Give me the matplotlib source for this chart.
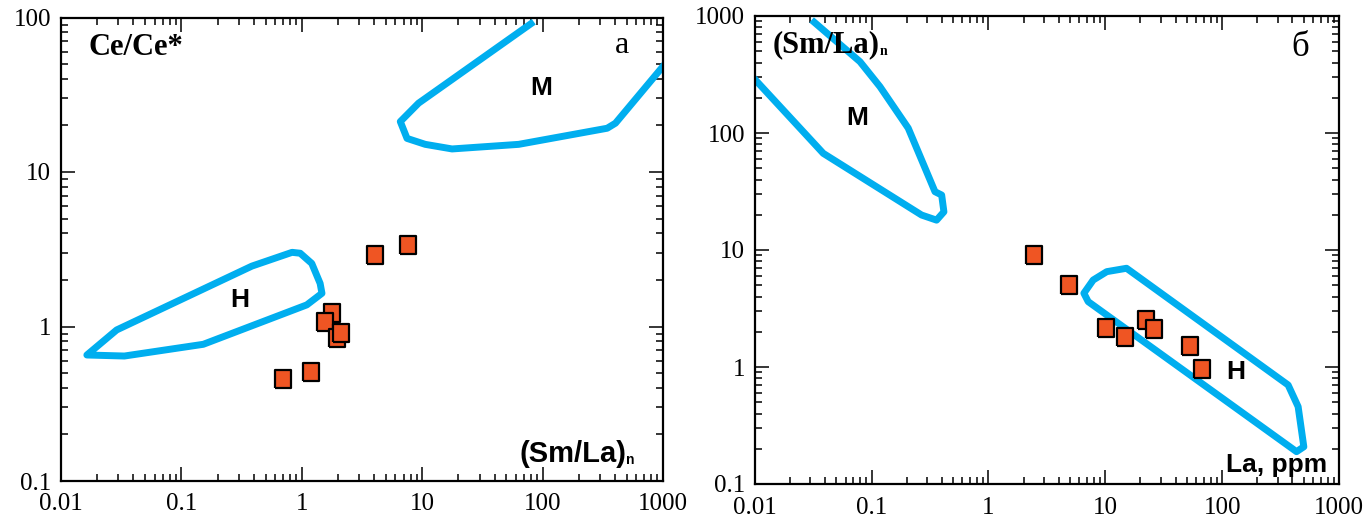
import matplotlib
matplotlib.use("Agg")
import matplotlib.pyplot as plt
from matplotlib.ticker import FixedLocator, LogLocator, NullFormatter

# ---------------- data ----------------
# panel a: (Sm/La)n vs Ce/Ce*
a_sm_la = [0.70, 1.20, 4.07, 7.66, 1.79, 1.57, 1.97, 2.13]
a_ce = [0.46, 0.51, 2.90, 3.39, 1.22, 1.07, 0.84, 0.91]

# field H, panel a (closed)
a_H_x = [0.0164, 0.0336, 0.152, 1.10, 1.47, 1.42, 1.21, 0.97, 0.83, 0.385, 0.029]
a_H_y = [0.654, 0.644, 0.767, 1.38, 1.64, 1.90, 2.56, 2.98, 3.02, 2.46, 0.95]
# field M, panel a (open, runs out of the frame)
a_M_x = [84.4, 9.33, 6.58, 7.48, 10.6, 17.7, 63.3, 344, 403, 1150]
a_M_y = [93.9, 27.9, 21.2, 16.5, 15.1, 14.1, 15.1, 19.2, 20.7, 55]

# panel б: La ppm vs (Sm/La)n
b_la = [2.47, 4.88, 10.1, 14.7, 22.4, 26.2, 53.2, 67.4]
b_sm_la = [9.1, 5.05, 2.17, 1.82, 2.51, 2.10, 1.50, 0.97]

# field M, panel б (open)
b_M_x = [0.0307, 0.0796, 0.118, 0.206, 0.349, 0.398, 0.416, 0.36, 0.268, 0.0386, 0.0095]
b_M_y = [925, 407, 249, 110, 31.5, 29.5, 21.2, 18.0, 19.9, 67.0, 305]
# field H, panel б (closed)
b_H_x = [15.2, 10.3, 7.88, 6.56, 7.14, 433, 500, 447, 367]
b_H_y = [6.98, 6.53, 5.54, 4.27, 3.62, 0.189, 0.208, 0.458, 0.702]

x_ticks = [0.01, 0.1, 1, 10, 100, 1000]
x_labels = ["0.01", "0.1", "1", "10", "100", "1000"]
a_y_ticks = [0.1, 1, 10, 100]
a_y_labels = ["0.1", "1", "10", "100"]
b_y_ticks = [0.1, 1, 10, 100, 1000]
b_y_labels = ["0.1", "1", "10", "100", "1000"]

# ---------------- style ----------------
field_color = "#00AEEF"
point_color = "#EF5523"
serif = "Liberation Serif"
sans = "Liberation Sans"
rect = [(-0.44, -0.5), (0.44, -0.5), (0.44, 0.5), (-0.44, 0.5), (-0.44, -0.5)]

fig = plt.figure(figsize=(13.68, 5.2), dpi=100)
W, H = 1368, 520


def make_axes(x0, x1, y0, y1):
    return fig.add_axes([x0 / W, 1 - y1 / H, (x1 - x0) / W, (y1 - y0) / H])


def style_axes(ax, yticks, ylabels, ylim):
    ax.set_xscale("log")
    ax.set_yscale("log")
    ax.set_xlim(0.01, 1000)
    ax.set_ylim(*ylim)
    ax.xaxis.set_major_locator(FixedLocator(x_ticks))
    ax.yaxis.set_major_locator(FixedLocator(yticks))
    ax.set_xticklabels(x_labels, family=serif, fontsize=18)
    ax.set_yticklabels(ylabels, family=serif, fontsize=18)
    ax.xaxis.set_minor_locator(LogLocator(base=10, subs=range(2, 10), numticks=20))
    ax.yaxis.set_minor_locator(LogLocator(base=10, subs=range(2, 10), numticks=20))
    ax.xaxis.set_minor_formatter(NullFormatter())
    ax.yaxis.set_minor_formatter(NullFormatter())
    ax.tick_params(which="both", direction="in", top=True, right=True, width=1.1, colors="black")
    ax.tick_params(which="major", length=10)
    ax.tick_params(which="minor", length=5)
    ax.tick_params(axis="x", which="major", pad=9)
    ax.tick_params(axis="y", which="major", pad=7)
    for s in ax.spines.values():
        s.set_linewidth(1.6)


def field(ax, xs, ys, closed):
    if closed:
        ax.fill(xs, ys, fill=False, edgecolor=field_color, lw=5, joinstyle="round")
    else:
        ax.plot(xs, ys, color=field_color, lw=5, solid_joinstyle="round", solid_capstyle="butt")


# panel a
ax1 = make_axes(61, 663, 17.5, 481)
style_axes(ax1, a_y_ticks, a_y_labels, (0.1, 100))
field(ax1, a_H_x, a_H_y, True)
field(ax1, a_M_x, a_M_y, False)
for xx, yy in zip(a_sm_la, a_ce):
    ax1.plot(xx, yy, ls="none", marker=rect, ms=13, mfc=point_color, mec="black", mew=1.6)
ax1.text(0.045, 0.936, "Ce/Ce*", transform=ax1.transAxes, family=serif, weight="bold",
         fontsize=22, va="center", ha="left")
ax1.text(0.932, 0.94, "а", transform=ax1.transAxes, family=serif, fontsize=23, va="center", ha="center")
ax1.text(0.797, 0.848, "M", transform=ax1.transAxes, family=sans, weight="bold", fontsize=19,
         va="center", ha="center")
ax1.text(0.297, 0.39, "H", transform=ax1.transAxes, family=sans, weight="bold", fontsize=19,
         va="center", ha="center")
t1 = ax1.text(0.761, 0.058, "(Sm/La)", transform=ax1.transAxes, family=sans, weight="bold",
              fontsize=21, va="center", ha="left")
ax1.annotate("n", xy=(1, 0.05), xycoords=t1, family=sans, weight="bold", fontsize=10,
             va="bottom", ha="left")

# panel б
ax2 = make_axes(754.7, 1339, 16, 484)
style_axes(ax2, b_y_ticks, b_y_labels, (0.1, 1000))
field(ax2, b_M_x, b_M_y, False)
field(ax2, b_H_x, b_H_y, True)
for xx, yy in zip(b_la, b_sm_la):
    ax2.plot(xx, yy, ls="none", marker=rect, ms=13, mfc=point_color, mec="black", mew=1.6)
t2 = ax2.text(0.03, 0.938, "(Sm/La)", transform=ax2.transAxes, family=serif, weight="bold",
              fontsize=22, va="center", ha="left")
ax2.annotate("n", xy=(1, 0.05), xycoords=t2, family=serif, weight="bold", fontsize=10,
             va="bottom", ha="left")
ax2.text(0.933, 0.932, "б", transform=ax2.transAxes, family=serif, fontsize=25, va="center", ha="center")
ax2.text(0.175, 0.782, "M", transform=ax2.transAxes, family=sans, weight="bold", fontsize=19,
         va="center", ha="center")
ax2.text(0.824, 0.239, "H", transform=ax2.transAxes, family=sans, weight="bold", fontsize=19,
         va="center", ha="center")
ax2.text(0.807, 0.041, "La, ppm", transform=ax2.transAxes, family=sans, weight="bold",
         fontsize=19, va="center", ha="left")

fig.savefig("out.png", dpi=100)
